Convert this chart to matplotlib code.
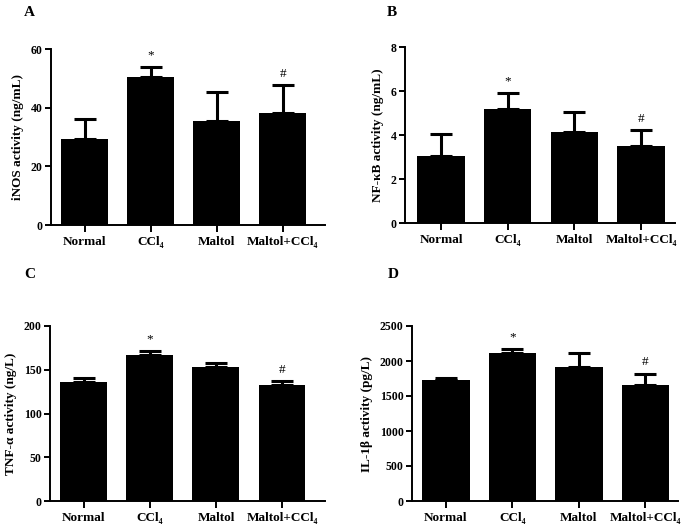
import matplotlib.pyplot as plt

plt.rcParams['font.family'] = ['Liberation Serif', 'DejaVu Serif']
plt.rcParams['font.weight'] = 'bold'

groups = ['Normal', 'CCl\u2084', 'Maltol', 'Maltol+CCl\u2084']

# 各指标的均值和误差(只画上侧)
inos_mean = [29.3, 50.3, 35.5, 38.2]
inos_err = [6.9, 3.6, 9.7, 9.4]
nfkb_mean = [3.04, 5.19, 4.12, 3.50]
nfkb_err = [0.99, 0.71, 0.93, 0.71]
tnf_mean = [136, 167, 153.5, 133]
tnf_err = [4.2, 4.4, 4.2, 4.0]
il1b_mean = [1733, 2119, 1910, 1657]
il1b_err = [29, 57, 209, 162]

# 显著性标记
marks = ['', '*', '', '#']

panels = [
    ('A', 'iNOS activity (ng/mL)', inos_mean, inos_err, [0, 20, 40, 60],
     [51, 225, 325, 49], (-0.51, 3.64), (29, 12)),
    ('B', 'NF-\u03baB activity (ng/mL)', nfkb_mean, nfkb_err, [0, 2, 4, 6, 8],
     [405, 223, 675, 47], (-0.54, 3.51), (392, 12)),
    ('C', 'TNF-\u03b1 activity (ng/L)', tnf_mean, tnf_err, [0, 50, 100, 150, 200],
     [50, 501, 325, 326], (-0.51, 3.65), (30, 274)),
    ('D', 'IL-1\u03b2 activity (pg/L)', il1b_mean, il1b_err, [0, 500, 1000, 1500, 2000, 2500],
     [412, 501, 678, 326], (-0.51, 3.49), (393, 274)),
]

W, H = 689, 528
fig = plt.figure(figsize=(W / 100, H / 100), dpi=100)

for letter, ylabel, mean, err, yticks, box, xlim, lpos in panels:
    left, bottom, right, top = box
    ax = fig.add_axes([left / W, 1 - bottom / H, (right - left) / W, (bottom - top) / H])
    x = range(len(groups))
    ax.bar(x, mean, width=0.71, color='black', zorder=2)
    ax.errorbar(x, mean, yerr=[[0] * 4, err], fmt='none', ecolor='black',
                elinewidth=2.2, capsize=8, capthick=2.2, zorder=1)
    for xi, m, e, s in zip(x, mean, err, marks):
        if s:
            ax.annotate(s, (xi, m + e), xytext=(0, 4), textcoords='offset points',
                        ha='center', va='bottom', fontsize=9.5, fontweight='normal')
    ax.set_xlim(*xlim)
    ax.set_ylim(0, yticks[-1])
    ax.set_yticks(yticks)
    ax.set_xticks(list(x))
    ax.set_xticklabels(groups, fontsize=9.5, fontweight='bold')
    ax.tick_params(axis='y', labelsize=8.5, width=1.4, length=4, pad=2)
    ax.tick_params(axis='x', width=1.4, length=5, pad=3)
    for lab in ax.get_yticklabels():
        lab.set_fontweight('bold')
    ax.set_ylabel(ylabel, fontsize=9.5, fontweight='bold', labelpad=5)
    ax.spines['top'].set_visible(False)
    ax.spines['right'].set_visible(False)
    ax.spines['left'].set_linewidth(1.4)
    ax.spines['bottom'].set_linewidth(1.4)
    fig.text(lpos[0] / W, 1 - lpos[1] / H, letter, fontsize=11, fontweight='bold',
             ha='center', va='center')

fig.savefig('out.png', dpi=100)
